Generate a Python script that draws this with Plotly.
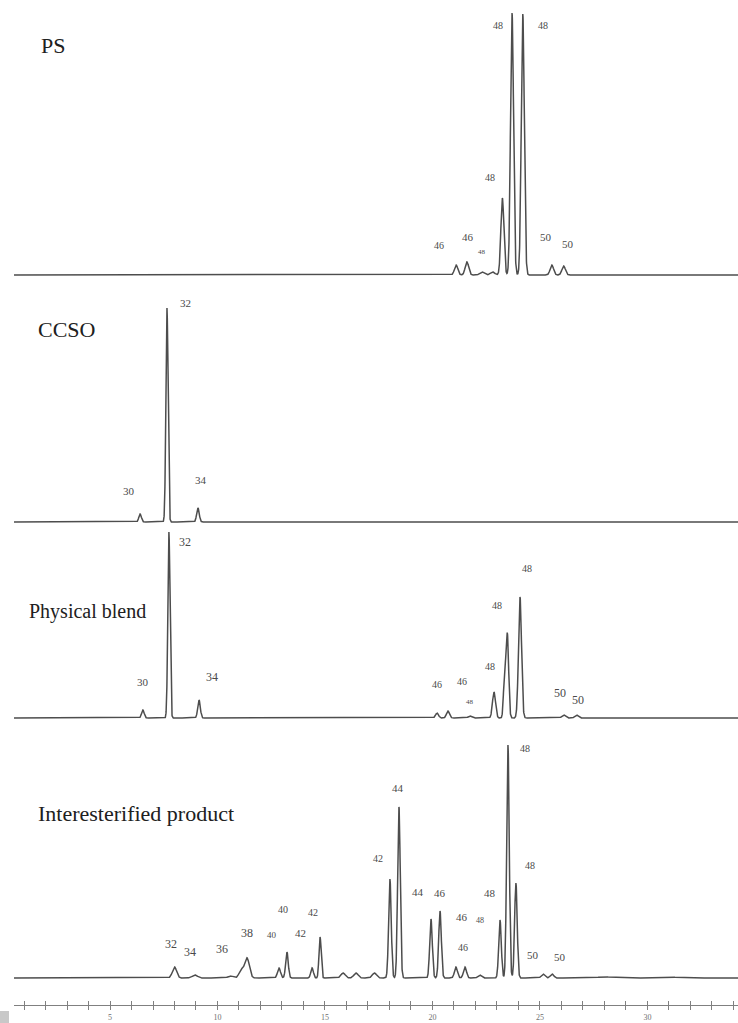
import numpy as np
import plotly.graph_objects as go

# Shared retention-time window (min)
T_MIN, T_MAX = 0.535, 34.21

# ---------------- peak tables: retention time (min), height, sigma (min) ----------------
# PS
ps_rt = [21.10, 21.60, 22.30, 22.80, 23.25, 23.70, 24.20, 25.55, 26.10]
ps_height = [10, 13, 3, 3, 77, 262, 261, 10, 9]
ps_sigma = [0.08, 0.08, 0.10, 0.10, 0.07, 0.07, 0.07, 0.08, 0.08]

# CCSO
ccso_rt = [6.40, 7.65, 9.09]
ccso_height = [8, 214, 14]
ccso_sigma = [0.06, 0.05, 0.06]

# Physical blend
pb_rt = [6.53, 7.74, 9.14, 20.21, 20.72, 21.74, 22.86, 23.35, 23.48, 24.07, 26.10, 26.70]
pb_height = [8, 186, 18, 5, 7, 2, 26, 40, 84, 121, 3, 3]
pb_sigma = [0.06, 0.05, 0.06, 0.07, 0.07, 0.08, 0.07, 0.05, 0.06, 0.07, 0.08, 0.08]

# Interesterified product
ip_rt = [8.00, 8.95, 10.60, 11.10, 11.37, 12.86, 13.23, 14.40, 14.77, 15.84, 16.44,
         17.30, 18.02, 18.44, 19.93, 20.35, 21.09, 21.51, 22.20, 23.14, 23.51, 23.88,
         25.14, 25.56, 28.0, 31.0]
ip_height = [11, 3, 2, 8, 20, 10, 26, 10, 41, 5, 5,
             5, 99, 171, 59, 67, 11, 11, 3, 58, 233, 95,
             4, 4, 1.0, 1.0]
ip_sigma = [0.10, 0.12, 0.12, 0.10, 0.11, 0.07, 0.06, 0.06, 0.05, 0.10, 0.10,
            0.10, 0.06, 0.06, 0.06, 0.06, 0.07, 0.07, 0.08, 0.06, 0.06, 0.06,
            0.08, 0.08, 0.4, 0.4]

# ---------------- peak labels (carbon number) ----------------
ps_label_text = ["48", "48", "48", "46", "46", "48", "50", "50"]
ccso_label_text = ["32", "30", "34"]
pb_label_text = ["32", "30", "34", "46", "46", "48", "48", "48", "48", "50", "50"]
ip_label_text = ["32", "34", "36", "38", "40", "40", "42", "42", "42", "44", "44",
                 "46", "46", "48", "46", "48", "48", "48", "50", "50"]

# label anchor points (retention time, signal) and font sizes
ps_label_pos = [(23.05, 250, 10), (25.14, 250, 10), (22.67, 98, 10), (20.30, 30, 10),
                (21.65, 38, 11), (22.30, 23, 7), (25.28, 38, 11), (26.30, 31, 11)]
ccso_label_pos = [(8.49, 219, 11), (5.88, 31, 11), (9.23, 42, 11)]
pb_label_pos = [(8.49, 176, 12), (6.53, 36, 11), (9.74, 41, 12), (20.21, 33, 10),
                (21.37, 36, 10), (21.74, 16, 7), (22.67, 51, 10), (23.00, 112, 10),
                (24.40, 149, 10), (25.93, 25, 12), (26.77, 18, 12)]
ip_label_pos = [(7.84, 34, 12), (8.72, 26, 12), (10.21, 29, 12), (11.37, 45, 12),
                (12.53, 43, 9), (13.05, 69, 10), (13.84, 45, 11), (14.44, 66, 10),
                (17.47, 120, 10), (18.40, 190, 11), (19.33, 86, 11), (20.35, 85, 11),
                (21.37, 61, 11), (22.20, 58, 8), (21.42, 31, 10), (22.67, 85, 11),
                (24.30, 230, 10), (24.53, 113, 10), (24.67, 23, 11), (25.93, 21, 11)]

panel_names = ["PS", "CCSO", "Physical blend", "Interesterified product"]

# ---------------- layout geometry (pixels) ----------------
W, H = 738, 1023
MB = 18                      # bottom margin holding the tick labels
PLOT_H = H - MB
X_LEFT_PX = 14

# (top px, baseline px) for each panel
panels = [(12, 275), (285, 522), (526, 718), (730, 978)]
PAD = 3


def trace_signal(t, rts, hs, sig):
    y = np.zeros_like(t)
    for r, h, s in zip(rts, hs, sig):
        y += h * np.exp(-0.5 * ((t - r) / s) ** 2)
    return y


t = np.arange(T_MIN, T_MAX, 0.005)
series = [
    (ps_rt, ps_height, ps_sigma),
    (ccso_rt, ccso_height, ccso_sigma),
    (pb_rt, pb_height, pb_sigma),
    (ip_rt, ip_height, ip_sigma),
]
label_sets = [
    (ps_label_text, ps_label_pos),
    (ccso_label_text, ccso_label_pos),
    (pb_label_text, pb_label_pos),
    (ip_label_text, ip_label_pos),
]

LINE_COLOR = "#4d4d4d"
fig = go.Figure()
annotations = []
layout_axes = {}

for i, ((rts, hs, sg), (top, base)) in enumerate(zip(series, panels)):
    yname = "y" if i == 0 else f"y{i + 1}"
    axname = "yaxis" if i == 0 else f"yaxis{i + 1}"
    fig.add_trace(go.Scatter(
        x=t, y=trace_signal(t, rts, hs, sg),
        mode="lines", line=dict(color=LINE_COLOR, width=1.5),
        xaxis="x", yaxis=yname, hoverinfo="skip", showlegend=False,
    ))
    bottom = base + PAD
    layout_axes[axname] = dict(
        domain=[(PLOT_H - bottom) / PLOT_H, (PLOT_H - top) / PLOT_H],
        range=[-PAD, base - top], visible=False, fixedrange=True,
    )
    texts, positions = label_sets[i]
    for txt, (lx, ly, fs) in zip(texts, positions):
        annotations.append(dict(
            x=lx, y=ly, xref="x", yref=yname, text=txt, showarrow=False,
            xanchor="center", yanchor="middle",
            font=dict(family="Liberation Serif", size=fs, color="#4a4a4a"),
        ))

# panel titles (paper coordinates from pixel anchors) and font sizes
title_anchor_px = [(39, 46, 22), (36, 330, 22), (27, 611, 20), (36, 813, 22)]
for name, (px, py, fs) in zip(panel_names, title_anchor_px):
    annotations.append(dict(
        x=px / W, y=(PLOT_H - py) / PLOT_H, xref="paper", yref="paper",
        text=name, showarrow=False, xanchor="left", yanchor="middle",
        font=dict(family="Liberation Serif", size=fs, color="#202020"),
    ))

# helper trace so the inward-tick overlay axis is drawn
fig.add_trace(go.Scatter(x=[None], y=[None], xaxis="x2", yaxis="y4",
                         mode="lines", showlegend=False, hoverinfo="skip"))

x_common = dict(
    domain=[X_LEFT_PX / W, 1], range=[T_MIN, T_MAX], anchor="free", position=0,
    showgrid=False, zeroline=False, showline=True, linecolor="#808080", linewidth=1,
    tickmode="linear", tick0=0, dtick=5, tickcolor="#808080", ticklen=4, tickwidth=1,
    fixedrange=True,
)
xaxis = dict(x_common, ticks="outside",
             minor=dict(dtick=1, tick0=0, ticks="outside", ticklen=4, tickcolor="#808080"),
             tickfont=dict(family="Liberation Serif", size=8, color="#707070"))
xaxis2 = dict(x_common, ticks="inside", overlaying="x", showticklabels=False,
              minor=dict(dtick=1, tick0=0, ticks="inside", ticklen=4, tickcolor="#808080"))

fig.update_layout(
    width=W, height=H,
    margin=dict(l=0, r=0, t=0, b=MB),
    paper_bgcolor="white", plot_bgcolor="white",
    xaxis=xaxis, xaxis2=xaxis2,
    annotations=annotations,
    shapes=[dict(type="rect", xref="paper", yref="paper",
                 x0=0, x1=9 / W, y0=-MB / PLOT_H, y1=(PLOT_H - 1011) / PLOT_H,
                 fillcolor="#c8c8c8", line=dict(width=0), layer="above")],
    **layout_axes,
)

fig.write_html("out.html")
